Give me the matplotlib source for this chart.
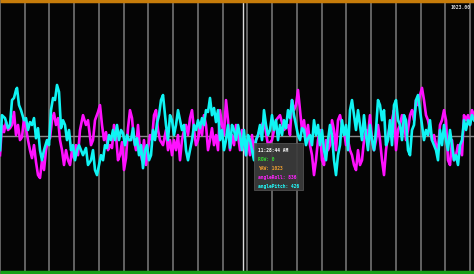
import numpy as np
import matplotlib
matplotlib.use("Agg")
import matplotlib.pyplot as plt
from matplotlib.ticker import MultipleLocator

# sample times (ticks) and readings, 0..1023 sensor range
t_pitch = [0, 2, 5, 8, 10, 12, 14, 16, 17, 19, 21, 24, 26, 28, 30, 32, 34, 36, 38, 40,
           42, 44, 47, 49, 51, 53, 55, 57, 59, 61, 63, 65, 67, 69, 71, 73, 75, 77, 79, 83,
           86, 88, 91, 93, 95, 97, 99, 101, 103, 105, 107, 109, 111, 113, 115, 117, 119, 121, 123, 125,
           127, 129, 131, 133, 135, 137, 139, 141, 143, 145, 147, 149, 151, 153, 155, 157, 159, 161, 163, 166,
           168, 170, 172, 174, 176, 178, 180, 182, 184, 186, 188, 190, 192, 194, 196, 198, 200, 202, 204, 206,
           208, 210, 212, 214, 216, 218, 220, 222, 224, 226, 228, 230, 232, 234, 236, 238, 240, 242, 244, 246,
           248, 250, 252, 254, 256, 258, 260, 262, 264, 266, 268, 270, 272, 274, 276, 278, 280, 282, 284, 286,
           288, 290, 292, 294, 296, 298, 300, 302, 304, 306, 308, 310, 312, 314, 316, 318, 320, 322, 324, 326,
           328, 330, 332, 334, 336, 338, 340, 342, 344, 346, 348, 350, 352, 354, 356, 358, 360, 362, 364, 366,
           368, 370, 372, 374, 376, 378, 380, 382, 384, 386, 388, 390, 392, 394, 396, 398, 400, 402, 404, 406,
           408, 410, 412, 414, 416, 418, 420, 422, 424, 426, 428, 430, 432, 434, 436, 438, 440, 442, 444, 446,
           448, 450, 452, 454, 456, 458, 460, 462, 464, 466, 468, 470, 472, 474]
angle_pitch = [460, 592, 581, 543, 555, 649, 657, 687, 695, 630, 611, 573, 581, 536, 566, 555, 581, 505, 543, 460,
               422, 460, 498, 479, 611, 657, 649, 706, 680, 543, 573, 555, 498, 536, 460, 479, 422, 460, 479, 441,
               468, 404, 422, 460, 385, 366, 404, 441, 422, 479, 468, 517, 498, 536, 498, 555, 498, 536, 524, 479,
               517, 498, 498, 543, 479, 505, 441, 479, 392, 460, 479, 422, 441, 536, 498, 562, 592, 649, 668, 555,
               498, 592, 573, 517, 555, 611, 573, 536, 555, 460, 422, 460, 498, 555, 536, 573, 543, 581, 555, 611,
               604, 657, 592, 619, 566, 611, 498, 536, 460, 498, 555, 468, 555, 536, 498, 555, 517, 460, 536, 441,
               517, 498, 460, 422, 498, 517, 555, 498, 611, 555, 517, 536, 592, 536, 573, 498, 555, 517, 573, 543,
               611, 581, 649, 592, 555, 517, 498, 543, 536, 479, 505, 517, 479, 573, 517, 555, 479, 536, 460, 422,
               498, 555, 517, 422, 366, 441, 479, 573, 517, 555, 460, 611, 649, 592, 536, 611, 555, 498, 592, 517,
               460, 555, 498, 460, 536, 649, 630, 573, 611, 479, 498, 573, 479, 630, 649, 573, 555, 498, 592, 573,
               460, 441, 536, 555, 649, 668, 611, 555, 498, 536, 517, 573, 498, 479, 460, 422, 536, 479, 555, 498,
               460, 536, 479, 422, 441, 404, 479, 498, 573, 536, 573, 555, 592, 573]

t_roll = [0, 2, 4, 6, 8, 10, 12, 14, 16, 18, 20, 22, 24, 26, 28, 30, 32, 34, 36, 38,
          40, 42, 44, 46, 48, 50, 52, 54, 56, 58, 60, 62, 64, 66, 68, 70, 72, 74, 76, 78,
          80, 83, 86, 88, 91, 93, 95, 98, 100, 102, 104, 106, 108, 110, 112, 114, 116, 118, 120, 122,
          124, 126, 128, 130, 132, 134, 136, 138, 140, 142, 144, 146, 148, 150, 152, 154, 156, 158, 160, 163,
          166, 168, 170, 172, 174, 176, 178, 180, 182, 184, 186, 188, 190, 192, 194, 196, 198, 200, 202, 204,
          206, 208, 210, 212, 214, 216, 218, 220, 222, 224, 226, 228, 230, 232, 234, 236, 238, 240, 242, 244,
          246, 248, 250, 252, 254, 256, 260, 264, 268, 272, 276, 280, 284, 288, 290, 292, 294, 296, 298, 300,
          302, 304, 306, 308, 310, 312, 314, 316, 318, 320, 322, 324, 326, 328, 330, 332, 334, 336, 338, 340,
          342, 344, 346, 348, 350, 352, 354, 356, 358, 360, 362, 364, 366, 368, 370, 372, 374, 376, 378, 380,
          382, 384, 386, 388, 390, 392, 394, 396, 398, 400, 402, 404, 406, 408, 410, 412, 414, 416, 418, 420,
          422, 424, 426, 428, 430, 432, 434, 436, 438, 440, 442, 444, 446, 448, 450, 452, 454, 456, 458, 460,
          462, 464, 466, 468, 470, 472, 474]
angle_roll = [441, 555, 528, 566, 536, 543, 555, 604, 517, 555, 498, 509, 581, 543, 498, 460, 430, 479, 415, 366,
              355, 422, 385, 460, 498, 505, 573, 600, 555, 581, 498, 460, 404, 460, 422, 404, 460, 430, 479, 441,
              536, 592, 555, 573, 479, 498, 573, 604, 630, 555, 498, 528, 460, 479, 468, 555, 517, 422, 441, 490,
              385, 430, 543, 611, 581, 498, 460, 555, 460, 422, 498, 404, 468, 517, 498, 592, 611, 536, 498, 479,
              536, 460, 498, 441, 498, 460, 517, 422, 498, 536, 555, 517, 581, 611, 536, 479, 498, 555, 517, 592,
              555, 460, 498, 543, 479, 517, 460, 611, 555, 517, 649, 573, 460, 517, 479, 555, 517, 460, 536, 479,
              441, 498, 441, 517, 460, 498, 536, 573, 479, 498, 573, 592, 536, 555, 517, 649, 611, 630, 687, 611,
              536, 573, 498, 555, 479, 441, 366, 422, 498, 536, 422, 404, 498, 460, 479, 573, 536, 460, 573, 592,
              555, 536, 479, 498, 460, 441, 404, 385, 460, 404, 422, 498, 536, 517, 592, 498, 460, 498, 555, 498,
              422, 366, 460, 517, 555, 573, 611, 460, 536, 555, 592, 573, 498, 536, 592, 611, 573, 649, 630, 668,
              695, 649, 592, 573, 536, 498, 517, 479, 460, 555, 573, 611, 573, 422, 404, 498, 422, 441, 479, 460,
              441, 592, 573, 592, 555, 611, 592]

t_span = [0, 474]
row = [0, 0]
yaw = [1023, 1023]

cursor_t = 243
tooltip = [("11:28:44 AM", "#ffffff"),
           ("ROW: 0", "#33dd33"),
           ("YAW: 1023", "#f0a030"),
           ("angleRoll: 836", "#ff22ff"),
           ("anglePitch: 426", "#22ffff")]

fig = plt.figure(figsize=(4.74, 2.74), dpi=100, facecolor="black")
ax = fig.add_axes([0, 0, 1, 1], facecolor="#050505")
ax.set_xlim(0, 474)
ax.set_ylim(-7.5, 1026.8)

ax.xaxis.set_major_locator(MultipleLocator(24.75))
ax.grid(True, axis="x", color="#7c7c7c", lw=1.1)
ax.axhline(512, color="#8a8a8a", lw=1.0)
ax.axvline(cursor_t, color="#dddddd", lw=1.0)

ax.plot(t_span, yaw, color="#c77c0a", lw=2.5, solid_capstyle="butt")
ax.plot(t_span, row, color="#17a017", lw=2.5, solid_capstyle="butt")
ax.plot(t_roll, angle_roll, color="#ff10ff", lw=1.9)
ax.plot(t_pitch, angle_pitch, color="#10f4f4", lw=1.9)

for s in ax.spines.values():
    s.set_visible(False)
ax.tick_params(left=False, bottom=False, labelleft=False, labelbottom=False)

ax.text(0.992, 0.982, "1023.00", transform=ax.transAxes, ha="right", va="top",
        fontsize=3.4, color="#dddddd", family="DejaVu Sans Mono", fontweight="bold")

# tooltip box
box = plt.Rectangle((254 / 474, 1 - 190 / 274), 49 / 474, 47 / 274, transform=ax.transAxes,
                    facecolor="#3c3c3c", edgecolor="#555555", lw=0.6, alpha=0.93, zorder=5)
ax.add_patch(box)
for i, (txt, col) in enumerate(tooltip):
    ax.text(258 / 474, 1 - (151 + i * 8.8) / 274, txt, transform=ax.transAxes, ha="left",
            va="center", fontsize=3.3, color=col, family="DejaVu Sans Mono",
            fontweight="bold", zorder=6)

fig.savefig("out.png", dpi=100, facecolor=fig.get_facecolor())
